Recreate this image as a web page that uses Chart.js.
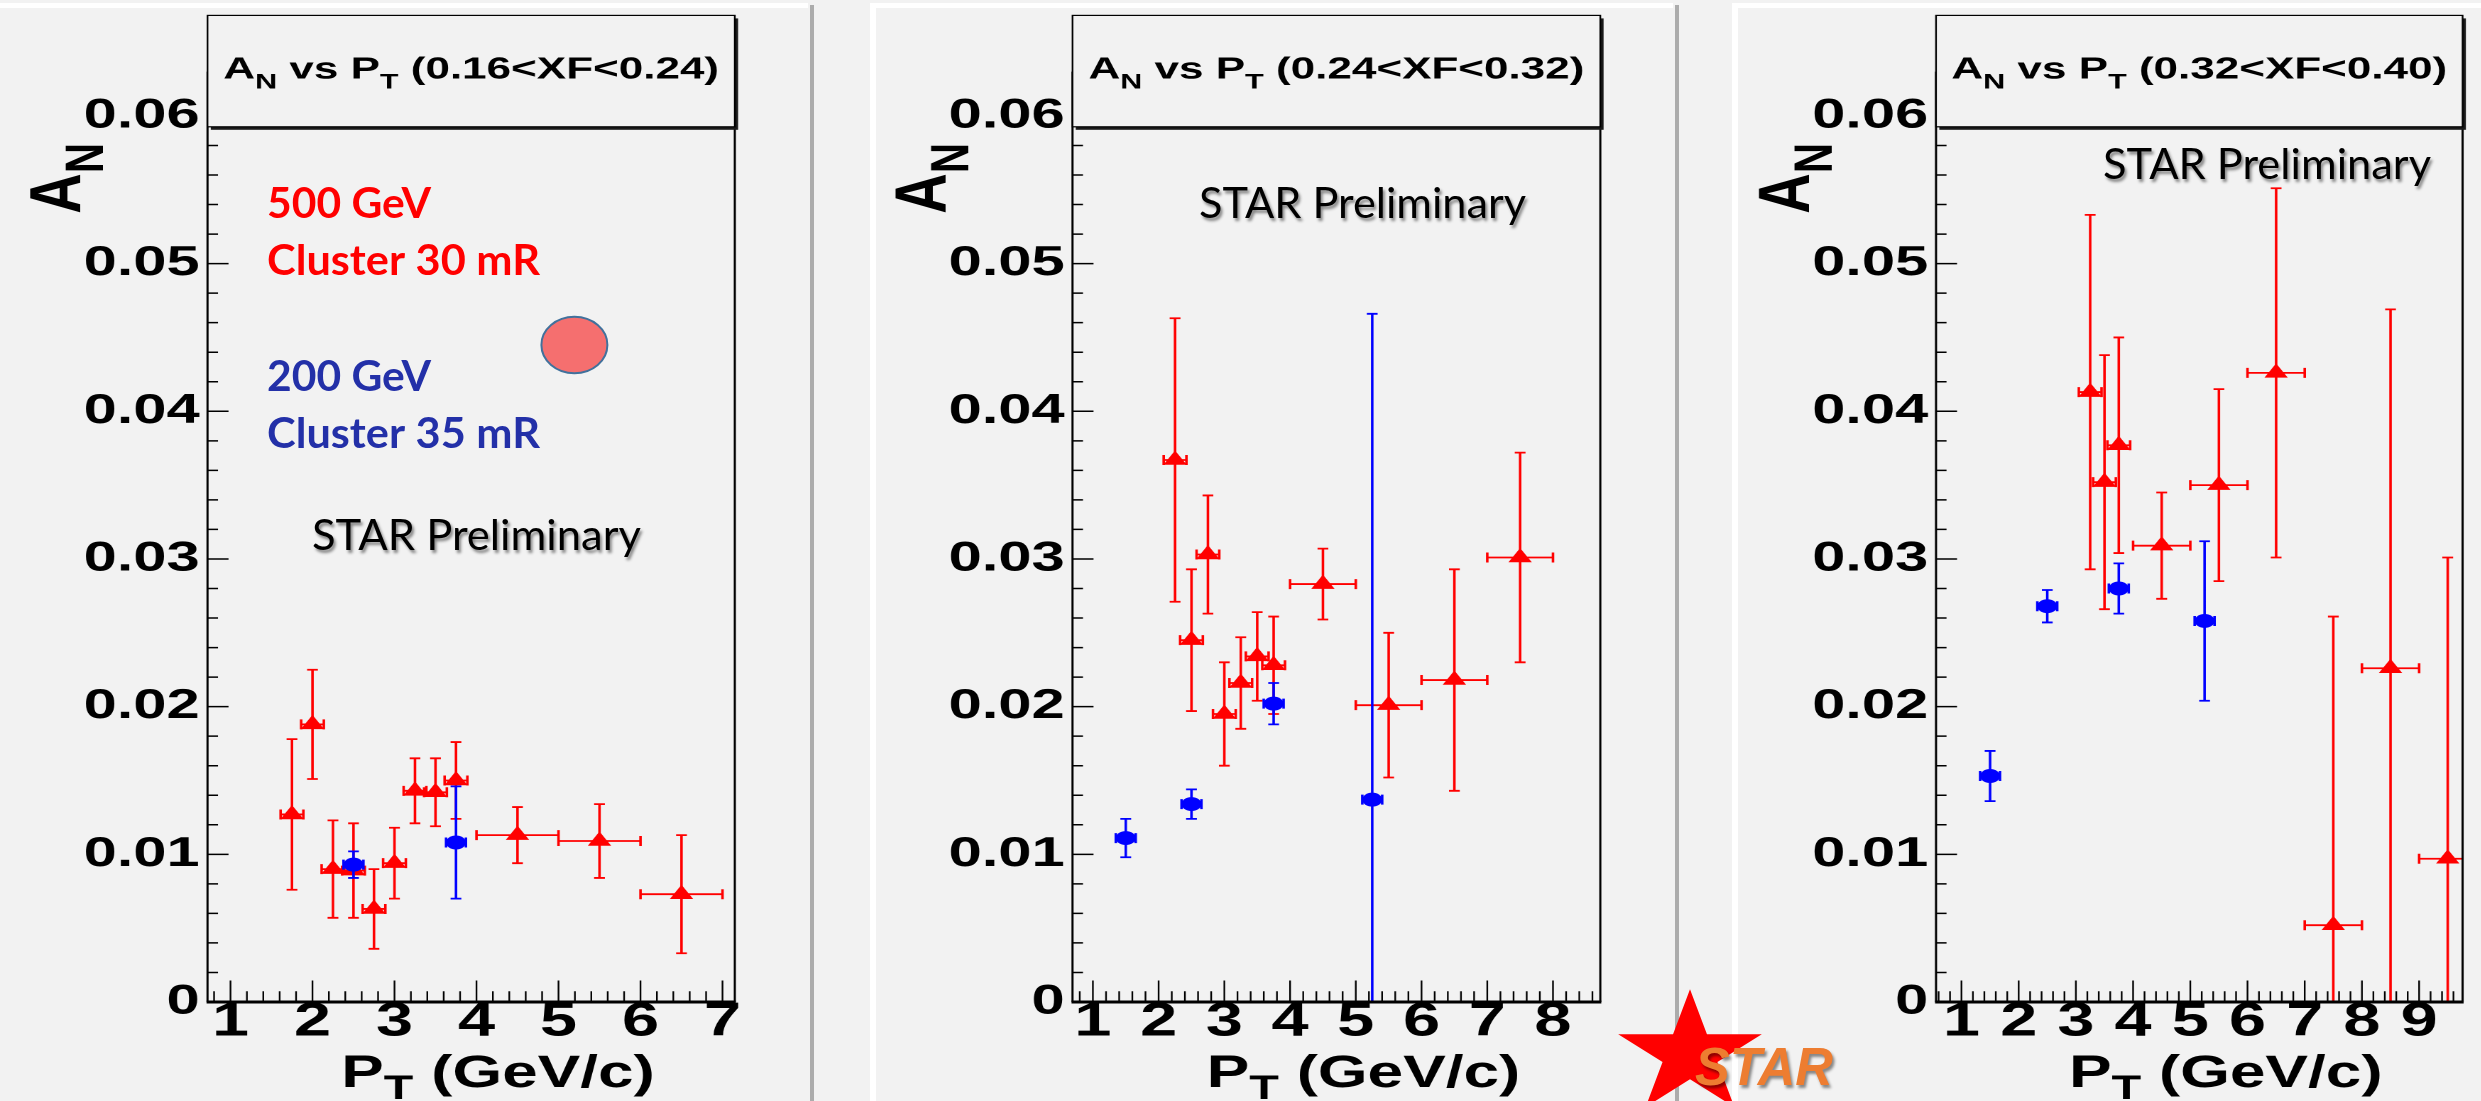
<!DOCTYPE html>
<html>
<head>
<meta charset="utf-8">
<title>A_N vs P_T</title>
<script src="https://cdn.jsdelivr.net/npm/chart.js@4.4.1/dist/chart.umd.min.js"></script>
<style>
  html, body { margin: 0; padding: 0; }
  body { width: 2481px; height: 1101px; background: #f2f2f2; position: relative; overflow: hidden; }
  canvas { display: block; }
  .layer { position: absolute; left: 0; top: 0; }
  .panel { position: absolute; top: 0; transform-origin: 0 0; }
</style>
</head>
<body>
<canvas id="back" class="layer" width="2481" height="1101"></canvas>
<div id="panels"></div>
<canvas id="front" class="layer" width="2481" height="1101"></canvas>
<script>
// red = 500 GeV (cluster 30 mR), blue = 200 GeV (cluster 35 mR)

// 0.16 < xF < 0.24
const pt500a = [1.75, 2.0, 2.25, 2.5, 2.75, 3.0, 3.25, 3.5, 3.75, 4.5, 5.5, 6.5];
const an500a = [0.0127, 0.0188, 0.0090, 0.0089, 0.0063, 0.0094, 0.0143, 0.0142, 0.0150, 0.0113, 0.0109, 0.0073];
const dan500a = [0.0051, 0.0037, 0.0033, 0.0032, 0.0027, 0.0024, 0.0022, 0.0023, 0.0026, 0.0019, 0.0025, 0.0040];
const dpt500a = [0, 0, 0, 0, 0, 0, 0, 0, 0, 0.5, 0.5, 0.5];
const pt200a = [2.5, 3.75];
const an200a = [0.0093, 0.0108];
const dan200a = [0.0009, 0.0038];

// 0.24 < xF < 0.32
const pt500b = [2.25, 2.5, 2.75, 3.0, 3.25, 3.5, 3.75, 4.5, 5.5, 6.5, 7.5];
const an500b = [0.0367, 0.0245, 0.0303, 0.0195, 0.0216, 0.0234, 0.0228, 0.0283, 0.0201, 0.0218, 0.0301];
const dan500b = [0.0096, 0.0048, 0.0040, 0.0035, 0.0031, 0.0030, 0.0033, 0.0024, 0.0049, 0.0075, 0.0071];
const dpt500b = [0, 0, 0, 0, 0, 0, 0, 0.5, 0.5, 0.5, 0.5];
const pt200b = [1.5, 2.5, 3.75, 5.25];
const an200b = [0.0111, 0.0134, 0.0202, 0.0137];
const dan200b = [0.0013, 0.0010, 0.0014, 0.0329];

// 0.32 < xF < 0.40
const pt500c = [3.25, 3.5, 3.75, 4.5, 5.5, 6.5, 7.5, 8.5, 9.5];
const an500c = [0.0413, 0.0352, 0.0377, 0.0309, 0.0350, 0.0426, 0.0052, 0.0226, 0.0097];
const dan500c = [0.0120, 0.0086, 0.0073, 0.0036, 0.0065, 0.0125, 0.0209, 0.0243, 0.0204];
const dpt500c = [0, 0, 0, 0.5, 0.5, 0.5, 0.5, 0.5, 0.5];
const pt200c = [1.5, 2.5, 3.75, 5.25];
const an200c = [0.0153, 0.0268, 0.0280, 0.0258];
const dan200c = [0.0017, 0.0011, 0.0017, 0.0054];

const yTicks = [0, 0.01, 0.02, 0.03, 0.04, 0.05, 0.06];
const yTickLabels = ['0', '0.01', '0.02', '0.03', '0.04', '0.05', '0.06'];
const xTicksA = [1, 2, 3, 4, 5, 6, 7];
const xTicksB = [1, 2, 3, 4, 5, 6, 7, 8];
const xTicksC = [1, 2, 3, 4, 5, 6, 7, 8, 9];
const binLabels = ['(0.16<XF<0.24)', '(0.24<XF<0.32)', '(0.32<XF<0.40)'];

const SX = 1.42;          // the ROOT pictures sit on the slide stretched sideways
const H = 1101;
const Y0PX = 1002, Y05PX = 263.6;
const YMAX = 0.063;
const RED = '#ff0000', BLUE = '#0000ff', BG = '#f2f2f2';
const TICK_FONT = '"Liberation Sans", Arial, Helvetica, sans-serif';

const panels = [
  { x0: 0, x1: 808, frameL: 207.5, frameR: 734.8, xMin: 0.72, xMax: 7.15, xTicks: xTicksA, bin: binLabels[0],
    pt500: pt500a, an500: an500a, dan500: dan500a, dpt500: dpt500a, pt200: pt200a, an200: an200a, dan200: dan200a },
  { x0: 876, x1: 1675, frameL: 1072.5, frameR: 1600.3, xMin: 0.69, xMax: 8.72, xTicks: xTicksB, bin: binLabels[1],
    pt500: pt500b, an500: an500b, dan500: dan500b, dpt500: dpt500b, pt200: pt200b, an200: an200b, dan200: dan200b },
  { x0: 1738, x1: 2481, frameL: 1936, frameR: 2462.6, xMin: 0.555, xMax: 9.76, xTicks: xTicksC, bin: binLabels[2],
    pt500: pt500c, an500: an500c, dan500: dan500c, dpt500: dpt500c, pt200: pt200c, an200: an200c, dan200: dan200c }
];

function pts(xs, ys) {
  return xs.map((x, i) => ({ x: x, y: ys[i] }));
}

function boldFont(size) {
  return 'bold ' + size + 'px ' + TICK_FONT;
}

// text with ROOT-like subscripts
function drawSegments(ctx, segs, x, y, align, big, small, drop) {
  let total = 0;
  segs.forEach(s => {
    ctx.font = boldFont(s.sub ? small : big);
    s.w = ctx.measureText(s.t).width;
    total += s.w;
  });
  let cx = align === 'center' ? x - total / 2 : (align === 'right' ? x - total : x);
  ctx.textAlign = 'left';
  ctx.textBaseline = 'alphabetic';
  segs.forEach(s => {
    ctx.font = boldFont(s.sub ? small : big);
    ctx.fillText(s.t, cx, y + (s.sub ? drop : 0));
    cx += s.w;
  });
}

function drawErrors(chart, ds) {
  const ctx = chart.ctx, ca = chart.chartArea;
  const xs = chart.scales.x, ys = chart.scales.y;
  ctx.save();
  ctx.beginPath();
  ctx.rect(ca.left, ca.top, ca.right - ca.left, ca.bottom - ca.top);
  ctx.clip();
  ctx.strokeStyle = ds.barColor;
  ctx.lineWidth = 1.8;
  ctx.beginPath();
  ds.data.forEach((d, i) => {
    const px = xs.getPixelForValue(d.x), py = ys.getPixelForValue(d.y);
    const hi = ys.getPixelForValue(d.y + ds.yErr[i]);
    const lo = ys.getPixelForValue(d.y - ds.yErr[i]);
    ctx.moveTo(px, hi); ctx.lineTo(px, lo);
    if (hi > ca.top) { ctx.moveTo(px - 3.8, hi); ctx.lineTo(px + 3.8, hi); }
    if (lo < ca.bottom) { ctx.moveTo(px - 3.8, lo); ctx.lineTo(px + 3.8, lo); }
    let l = xs.getPixelForValue(d.x - ds.xErr[i]);
    let r = xs.getPixelForValue(d.x + ds.xErr[i]);
    if (px - l < ds.stub) { l = px - ds.stub; r = px + ds.stub; }
    ctx.moveTo(l, py); ctx.lineTo(r, py);
    ctx.moveTo(l, py - 5); ctx.lineTo(l, py + 5);
    ctx.moveTo(r, py - 5); ctx.lineTo(r, py + 5);
  });
  ctx.stroke();
  ctx.restore();
}

function drawFrame(chart) {
  const ctx = chart.ctx, ca = chart.chartArea;
  const xs = chart.scales.x, ys = chart.scales.y;
  ctx.save();
  ctx.strokeStyle = '#000';

  // inward ticks, 5 divisions per label
  ctx.lineWidth = 1.5;
  ctx.beginPath();
  for (let k = 1; k * 0.002 <= ys.max + 1e-9; k++) {
    const py = ys.getPixelForValue(k * 0.002);
    ctx.moveTo(ca.left, py);
    ctx.lineTo(ca.left + (k % 5 === 0 ? 14.8 : 7.4), py);
  }
  ctx.stroke();
  ctx.lineWidth = 1.2;
  ctx.beginPath();
  for (let k = Math.ceil(xs.min / 0.2); k * 0.2 <= xs.max + 1e-9; k++) {
    const px = xs.getPixelForValue(k * 0.2);
    ctx.moveTo(px, ca.bottom);
    ctx.lineTo(px, ca.bottom - (k % 5 === 0 ? 21.5 : 10.7));
  }
  ctx.stroke();

  ctx.lineWidth = 1.5;
  ctx.beginPath();
  ctx.moveTo(ca.left, ca.top); ctx.lineTo(ca.left, ca.bottom);
  ctx.moveTo(ca.right, ca.top); ctx.lineTo(ca.right, ca.bottom);
  ctx.stroke();
  ctx.lineWidth = 3;
  ctx.beginPath();
  ctx.moveTo(ca.left - 0.7, ca.bottom); ctx.lineTo(ca.right + 0.7, ca.bottom);
  ctx.stroke();
  ctx.restore();
}

function drawTitles(chart, bin) {
  const ctx = chart.ctx, ca = chart.chartArea;
  ctx.save();
  // title pave with shadow
  const bx0 = ca.left, bx1 = ca.right, by0 = 15.4, by1 = 126.8;
  ctx.fillStyle = '#1a1a1a';
  ctx.fillRect(bx0 + 2.3, by0 + 3, bx1 - bx0, by1 - by0);
  ctx.fillStyle = BG;
  ctx.fillRect(bx0, by0, bx1 - bx0, by1 - by0);
  ctx.strokeStyle = '#000';
  ctx.lineWidth = 1.2;
  ctx.strokeRect(bx0, by0, bx1 - bx0, by1 - by0);
  ctx.fillStyle = '#000';
  drawSegments(ctx, [{ t: 'A' }, { t: 'N', sub: true }, { t: ' vs P' }, { t: 'T', sub: true }, { t: ' ' + bin }],
    (bx0 + bx1) / 2, 78.5, 'center', 31, 21.5, 10);

  // x title
  drawSegments(ctx, [{ t: 'P' }, { t: 'T', sub: true }, { t: ' (GeV/c)' }],
    ca.right - 80 / SX, 1087, 'right', 45, 34, 12);

  // y title, rotated
  ctx.save();
  ctx.translate(ca.left - 89.4, 143);
  ctx.rotate(-Math.PI / 2);
  ctx.scale(1.1, 1);
  drawSegments(ctx, [{ t: 'A' }, { t: 'N', sub: true }], 0, 0, 'right', 51, 38, 15.8);
  ctx.restore();
  ctx.restore();
}

const rootPad = {
  id: 'rootPad',
  beforeDatasetDraw(chart, args) {
    drawErrors(chart, chart.data.datasets[args.index]);
  },
  afterDraw(chart, args, opts) {
    drawFrame(chart);
    drawTitles(chart, opts.bin);
  }
};

function makePanel(p) {
  const w = Math.round((p.x1 - p.x0) / SX);
  const caLeft = (p.frameL - p.x0) / SX;
  const caRight = (p.frameR - p.x0) / SX;
  const top = Y0PX - (Y0PX - Y05PX) / 0.05 * YMAX;

  const wrap = document.createElement('div');
  wrap.className = 'panel';
  wrap.style.left = p.x0 + 'px';
  wrap.style.transform = 'scaleX(' + SX + ')';
  const cv = document.createElement('canvas');
  cv.width = w;
  cv.height = H;
  wrap.appendChild(cv);
  document.getElementById('panels').appendChild(wrap);

  return new Chart(cv, {
    type: 'scatter',
    data: {
      datasets: [
        { label: '200 GeV', data: pts(p.pt200, p.an200), yErr: p.dan200, xErr: p.pt200.map(() => 0),
          barColor: BLUE, stub: 7, pointStyle: 'circle', pointRadius: 7, backgroundColor: BLUE, borderWidth: 0 },
        { label: '500 GeV', data: pts(p.pt500, p.an500), yErr: p.dan500, xErr: p.dpt500,
          barColor: RED, stub: 8, pointStyle: 'triangle', pointRadius: 9.5, backgroundColor: RED, borderWidth: 0 }
      ]
    },
    options: {
      responsive: false,
      animation: false,
      devicePixelRatio: 2,
      events: [],
      layout: { padding: { left: 0, right: w - caRight, top: top, bottom: 0 } },
      plugins: { legend: { display: false }, tooltip: { enabled: false }, rootPad: { bin: p.bin } },
      scales: {
        x: {
          type: 'linear', bounds: 'data', min: p.xMin, max: p.xMax,
          afterBuildTicks: s => { s.ticks = p.xTicks.map(v => ({ value: v })); },
          afterFit: s => { s.height = H - Y0PX; },
          grid: { display: false, drawTicks: false },
          border: { display: false },
          ticks: { color: '#000', padding: 0.5, autoSkip: false, maxRotation: 0,
            font: { family: TICK_FONT, weight: 'bold', size: 47, lineHeight: 0.85 } }
        },
        y: {
          type: 'linear', bounds: 'data', min: 0, max: YMAX,
          afterBuildTicks: s => { s.ticks = yTicks.map(v => ({ value: v })); },
          afterFit: s => { s.width = caLeft; },
          grid: { display: false, drawTicks: false },
          border: { display: false },
          ticks: { color: '#000', padding: 5.5, font: { family: TICK_FONT, weight: 'bold', size: 42 },
            callback: (v, i) => yTickLabels[i] }
        }
      }
    },
    plugins: [rootPad]
  });
}

panels.forEach(makePanel);

// slide background: picture borders
const b = document.getElementById('back').getContext('2d');
b.fillStyle = '#ffffff';
[[0, 808], [870, 1673], [1732, 2481]].forEach(r => b.fillRect(r[0], 3, r[1] - r[0], 5));
b.fillRect(870, 3, 6, H);
b.fillRect(1732, 3, 6, H);
b.fillStyle = '#acacac';
b.fillRect(810, 5, 4, H);
b.fillRect(1675, 5, 4, H);

// slide annotations
const f = document.getElementById('front').getContext('2d');
function fitText(text, x0, x1, base, font, color, shadow) {
  f.save();
  f.font = font;
  const w = f.measureText(text).width;
  f.translate(x0, base);
  f.scale((x1 - x0) / w, 1);
  if (shadow) {
    f.shadowColor = 'rgba(0,0,0,0.45)';
    f.shadowOffsetX = 2;
    f.shadowOffsetY = 3;
    f.shadowBlur = 3;
  }
  f.fillStyle = color;
  f.textAlign = 'left';
  f.textBaseline = 'alphabetic';
  f.fillText(text, 0, 0);
  f.restore();
}

const LBL = 'bold 42.5px Lato, "Open Sans", sans-serif';
const PRE = '42.4px Lato, "Open Sans", sans-serif';
const DKBLUE = '#2330a8';
fitText('500 GeV', 267, 431, 218, LBL, RED, false);
fitText('Cluster 30 mR', 267, 540, 275, LBL, RED, false);
fitText('200 GeV', 267, 431, 391, LBL, DKBLUE, false);
fitText('Cluster 35 mR', 267, 540, 448, LBL, DKBLUE, false);
fitText('STAR Preliminary', 312, 641, 550, PRE, '#000', true);
fitText('STAR Preliminary', 1199, 1526, 218, PRE, '#000', true);
fitText('STAR Preliminary', 2103, 2431, 178.6, PRE, '#000', true);

f.save();
f.beginPath();
f.ellipse(574.4, 345, 33, 28.2, 0, 0, Math.PI * 2);
f.fillStyle = '#f56f6f';
f.fill();
f.lineWidth = 2;
f.strokeStyle = '#41719c';
f.stroke();
f.restore();

// STAR logo
f.save();
f.translate(1690, 1054.4);
f.scale(1.16, 1);
f.beginPath();
for (let k = 0; k < 10; k++) {
  const r = k % 2 ? 65.1 * 0.382 : 65.1;
  const a = -Math.PI / 2 + k * Math.PI / 5;
  f.lineTo(r * Math.cos(a), r * Math.sin(a));
}
f.closePath();
f.fillStyle = '#ff0000';
f.fill();
f.restore();
fitText('STAR', 1695, 1833, 1085, 'italic bold 53px "Liberation Sans", Arial, sans-serif', '#ed7d31', true);
</script>
</body>
</html>
